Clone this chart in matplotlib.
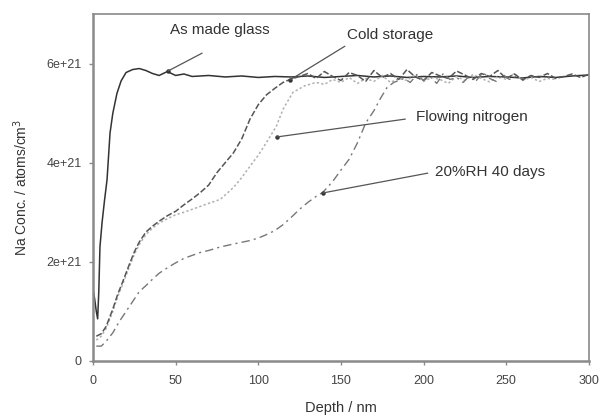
import matplotlib
matplotlib.use("Agg")
import matplotlib.pyplot as plt

plt.rcParams['font.family'] = ['Liberation Sans', 'DejaVu Sans']

# ---- data (depth in nm, Na concentration in 1e21 atoms/cm3) ----
as_made_depth = [0, 1, 2, 2.8, 3.5, 4.2, 5.5, 7, 8.5, 10.3, 12, 14.5, 17, 20, 24, 28, 32, 36,
                 40, 45, 50, 55, 60, 70, 80, 90, 100, 110, 120, 130, 140, 150, 160, 170,
                 180, 190, 200, 210, 220, 230, 240, 250, 260, 270, 280, 290, 300]
as_made_conc = [1.45, 1.25, 1.0, 0.85, 1.4, 2.3, 2.8, 3.25, 3.66, 4.6, 5.0, 5.4, 5.65, 5.82, 5.88,
                5.9, 5.86, 5.8, 5.76, 5.84, 5.76, 5.79, 5.74, 5.76, 5.73, 5.75, 5.72, 5.74, 5.73,
                5.75, 5.72, 5.74, 5.76, 5.73, 5.75, 5.72, 5.74, 5.73, 5.75, 5.72, 5.74, 5.73,
                5.71, 5.74, 5.72, 5.75, 5.77]

cold_depth = [2, 5, 8, 12, 15, 18, 22, 25, 28, 32, 36, 40, 45, 50, 55, 60, 65, 70, 75, 80,
              85, 90, 95, 100, 105, 110, 115, 120, 125, 130, 135, 140, 145, 150, 155, 160,
              165, 170, 175, 180, 185, 190, 195, 200, 205, 210, 215, 220, 225, 230, 235,
              240, 245, 250, 255, 260, 265, 270, 275, 280, 285, 290, 295, 300]
cold_conc = [0.5, 0.55, 0.7, 1.05, 1.35, 1.6, 1.95, 2.2, 2.4, 2.6, 2.72, 2.82, 2.93, 3.02, 3.15,
             3.27, 3.4, 3.55, 3.8, 4.0, 4.2, 4.48, 4.88, 5.17, 5.37, 5.5, 5.62, 5.69, 5.74, 5.8,
             5.7, 5.84, 5.74, 5.66, 5.82, 5.76, 5.64, 5.86, 5.72, 5.8, 5.68, 5.88, 5.73, 5.66,
             5.82, 5.75, 5.7, 5.85, 5.77, 5.68, 5.8, 5.74, 5.86, 5.7, 5.79, 5.67, 5.76, 5.72,
             5.8, 5.7, 5.74, 5.79, 5.72, 5.78]

nitrogen_depth = [2, 5, 8, 12, 15, 18, 22, 25, 28, 32, 36, 40, 45, 50, 55, 60, 65, 70, 77, 85,
                  90, 95, 100, 105, 111, 115, 121, 128, 135, 140, 145, 150, 155, 160, 165,
                  170, 175, 180, 185, 190, 195, 200, 205, 210, 215, 220, 225, 230, 235, 240,
                  245, 250, 255, 260, 265, 270, 275, 280]
nitrogen_conc = [0.42, 0.5, 0.66, 1.0, 1.3, 1.55, 1.9, 2.15, 2.35, 2.55, 2.68, 2.78, 2.87, 2.95,
                 3.0, 3.06, 3.12, 3.18, 3.26, 3.5, 3.7, 3.93, 4.15, 4.41, 4.74, 5.08, 5.42,
                 5.55, 5.62, 5.58, 5.68, 5.62, 5.72, 5.6, 5.7, 5.64, 5.76, 5.62, 5.7, 5.66,
                 5.78, 5.64, 5.72, 5.68, 5.6, 5.74, 5.66, 5.78, 5.7, 5.63, 5.74, 5.68, 5.8,
                 5.66, 5.72, 5.64, 5.7, 5.68]

rh_depth = [2, 5, 8, 12, 16, 20, 24, 28, 32, 36, 40, 45, 50, 55, 60, 65, 70, 77, 85, 95, 100,
            105, 110, 115, 120, 125, 130, 135, 139, 145, 150, 155, 160, 165, 170, 174, 178,
            182, 188, 192, 196, 200, 204, 208, 212, 216, 220, 224, 228, 232, 236, 240, 244,
            248, 252, 256, 260]
rh_conc = [0.3, 0.3, 0.4, 0.57, 0.8, 1.0, 1.2, 1.4, 1.52, 1.65, 1.77, 1.88, 1.98, 2.07, 2.13,
           2.19, 2.23, 2.3, 2.36, 2.43, 2.48, 2.55, 2.63, 2.75, 2.9, 3.06, 3.2, 3.32, 3.4,
           3.62, 3.85, 4.07, 4.4, 4.8, 5.05, 5.3, 5.52, 5.62, 5.7, 5.62, 5.78, 5.66, 5.74,
           5.6, 5.8, 5.68, 5.72, 5.62, 5.76, 5.66, 5.82, 5.7, 5.64, 5.78, 5.68, 5.74, 5.7]

x_ticks = [0, 50, 100, 150, 200, 250, 300]
y_ticks = [0, 2, 4, 6]
y_tick_labels = ["0", "2e+21", "4e+21", "6e+21"]

# label text, text position, leader start, leader end (data coords)
notes = [
    ("As made glass", (77, 6.68), (66, 6.21), (45.4, 5.85)),
    ("Cold storage", (180, 6.58), (152.4, 6.35), (119.2, 5.67)),
    ("Flowing nitrogen", (229, 4.92), (189, 4.88), (111.3, 4.52)),
    ("20%RH 40 days", (240, 3.81), (202.6, 3.79), (139.1, 3.39)),
]

fig = plt.figure(figsize=(6.02, 4.17), dpi=100)
ax = fig.add_axes([0.1545, 0.1343, 0.8235, 0.8321])

ax.plot(as_made_depth, as_made_conc, color="#333333", lw=1.1, ls="-")
ax.plot(nitrogen_depth, nitrogen_conc, color="#b0b0b0", lw=1.1, ls=(0, (1.5, 1.5)))
ax.plot(cold_depth, cold_conc, color="#555555", lw=1.1, ls=(0, (4, 1.5)))
ax.plot(rh_depth, rh_conc, color="#777777", lw=1.0, ls=(0, (6, 3, 1.5, 3)))

for label, txt_pos, start, end in notes:
    ax.annotate("", xy=end, xytext=start,
                arrowprops=dict(arrowstyle="-", color="#555555", lw=0.9,
                                shrinkA=0, shrinkB=0))
    ax.plot(end[0], end[1], marker="o", ms=2.2, color="#333333")
    ax.text(txt_pos[0], txt_pos[1], label, ha="center", va="center",
            fontsize=11, color="#333333")

ax.set_xlim(0, 300)
ax.set_ylim(0, 7)
ax.set_xticks(x_ticks)
ax.set_yticks(y_ticks)
ax.set_yticklabels(y_tick_labels)

ax.set_xlabel("Depth / nm", fontsize=10.5, color="#333333", labelpad=10)
ax.set_ylabel("Na Conc. / atoms/cm$^3$", fontsize=10, color="#333333", labelpad=12)

for side in ["left", "bottom"]:
    ax.spines[side].set_linewidth(1.8)
for side in ["top", "right"]:
    ax.spines[side].set_linewidth(1.2)
for sp in ax.spines.values():
    sp.set_color("#8a8a8a")

ax.tick_params(direction="out", length=3, width=1, color="#8a8a8a",
               labelsize=9, labelcolor="#444444")
ax.tick_params(axis="x", pad=7)
ax.tick_params(axis="y", pad=5)

fig.savefig("out.png", dpi=100)
